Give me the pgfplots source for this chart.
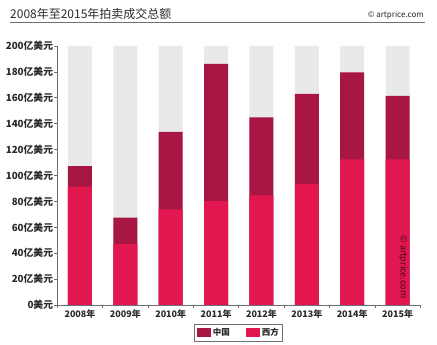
\documentclass[border=0pt]{standalone}
\usepackage{fontspec}
\setmainfont{Noto Sans CJK SC}
\usepackage{pgfplots}
\pgfplotsset{compat=1.18}
\definecolor{west}{HTML}{E31750}
\definecolor{china}{HTML}{A81644}
\definecolor{bgbar}{HTML}{E9E9E9}
\definecolor{axisgray}{HTML}{707070}
\definecolor{txt}{HTML}{2A2A2A}
\begin{document}
\begin{tikzpicture}[x=1pt,y=1pt]
\path[use as bounding box] (0,0) rectangle (437,345);
\node[anchor=west, text=txt, font=\fontsize{12}{14}\selectfont, inner sep=0pt] at (10,331) {2008年至2015年拍卖成交总额};
\node[anchor=east, text=txt, font=\fontsize{8}{10}\selectfont, inner sep=0pt] at (424,330) {© artprice.com};
\draw[axisgray, line width=0.8pt] (10,322.5) -- (425,322.5);
\begin{axis}[
  at={(57.3pt,40pt)}, anchor=south west,
  scale only axis, width=363pt, height=259pt,
  xmin=-0.5, xmax=7.5, ymin=0, ymax=200,
  axis lines*=left,
  axis line style={axisgray, line width=0.6pt},
  xtick={0,...,7},
  xticklabels={2008年,2009年,2010年,2011年,2012年,2013年,2014年,2015年},
  minor xtick={-0.5,0.5,...,7.5},
  major x tick style={draw=none},
  minor x tick style={axisgray, line width=0.6pt},
  minor tick length=3pt,
  ytick={0,20,...,200},
  yticklabels={0美元,20亿美元,40亿美元,60亿美元,80亿美元,100亿美元,120亿美元,140亿美元,160亿美元,180亿美元,200亿美元},
  major tick length=3pt,
  tick align=outside,
  y tick style={axisgray, line width=0.6pt},
  xticklabel style={text=txt, font=\fontsize{9}{10}\selectfont\bfseries, inner sep=2pt},
  yticklabel style={text=txt, font=\fontsize{9.8}{11}\selectfont\bfseries, inner sep=1pt},
  ybar, bar width=24pt,
  legend columns=2,
  legend style={at={(0.5,-0.073)}, anchor=north, draw=axisgray, line width=0.6pt,
    font=\fontsize{8.5}{10}\selectfont\bfseries, text=txt, inner sep=2pt,
    /tikz/every even column/.append style={column sep=14pt}},
  legend image code/.code={\fill[#1] (0pt,-4.5pt) rectangle (14pt,4.5pt);},
]
\addplot[bar shift=0pt, fill=bgbar, draw=none, forget plot] coordinates {(0,200) (1,200) (2,200) (3,200) (4,200) (5,200) (6,200) (7,200)};
\addplot[bar shift=0pt, fill=china, draw=none] coordinates {(0,107.3) (1,67.4) (2,133.6) (3,186.1) (4,144.9) (5,163.0) (6,179.7) (7,161.4)};
\addlegendentry{中国}
\addplot[bar shift=0pt, fill=west, draw=none] coordinates {(0,91.4) (1,47.1) (2,73.9) (3,80.3) (4,84.7) (5,93.4) (6,112.4) (7,112.4)};
\addlegendentry{西方}
\end{axis}
\node[rotate=-90, text=black, opacity=0.7, font=\fontsize{9}{10}\selectfont, inner sep=0pt] at (403,78) {© artprice.com};
\end{tikzpicture}
\end{document}
